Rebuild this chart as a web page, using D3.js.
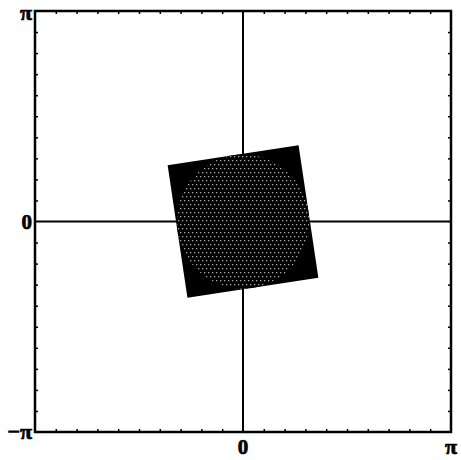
<!DOCTYPE html>
<html>
<head>
<meta charset="utf-8">
<script src="https://cdn.jsdelivr.net/npm/d3@7"></script>
<style>
  html, body { margin: 0; padding: 0; background: #fff; }
  svg { display: block; }
  .lbl { font-family: "Liberation Serif", "DejaVu Serif", serif; font-weight: bold; fill: #000; stroke: #000; stroke-width: 0.7px; }
</style>
</head>
<body>
<svg id="chart" width="461" height="460"></svg>
<script>
const PI = Math.PI;

// Axis range and tick positions (multiples of pi/10)
const axisDomain = [-PI, PI];
const tickValues = d3.range(-9, 10).filter(i => i !== 0).map(i => i * PI / 10);

// Tick labels
const xLabels = [{ v: 0, t: "0" }, { v: PI, t: "π" }];
const yLabels = [{ v: -PI, t: "−π" }, { v: 0, t: "0" }, { v: PI, t: "π" }];

// Unit square, rotated about the origin
const squareCorners = [[-1, -1], [1, -1], [1, 1], [-1, 1]];
const squareRotation = 0.15; // radians

// Disc inscribed in the square
const discCenter = [0, 0];
const discRadius = 1;

const svg = d3.select("#chart");
const plotLeft = 35, plotRight = 451, plotTop = 11, plotBottom = 432;

const x = d3.scaleLinear().domain(axisDomain).range([plotLeft, plotRight]);
const y = d3.scaleLinear().domain(axisDomain).range([plotBottom, plotTop]);

// Stipple pattern for the disc: grey dots on black
const defs = svg.append("defs");
const pat = defs.append("pattern")
  .attr("id", "stipple")
  .attr("patternUnits", "userSpaceOnUse")
  .attr("width", 4).attr("height", 8);
pat.append("rect").attr("width", 4).attr("height", 8).attr("fill", "#000");
pat.append("rect").attr("x", 0).attr("y", 0).attr("width", 1.3).attr("height", 1.3).attr("fill", "#aaa");
pat.append("rect").attr("x", 2).attr("y", 4).attr("width", 1.3).attr("height", 1.3).attr("fill", "#aaa");

// Crosshair lines at zero
svg.append("line")
  .attr("x1", x(0)).attr("x2", x(0)).attr("y1", y(PI)).attr("y2", y(-PI))
  .attr("stroke", "#000").attr("stroke-width", 2);
svg.append("line")
  .attr("x1", x(-PI)).attr("x2", x(PI)).attr("y1", y(0)).attr("y2", y(0))
  .attr("stroke", "#000").attr("stroke-width", 2);

// Rotated square
const rot = ([a, b]) => [a * Math.cos(squareRotation) - b * Math.sin(squareRotation),
                         a * Math.sin(squareRotation) + b * Math.cos(squareRotation)];
const pts = squareCorners.map(rot).map(([a, b]) => [x(a), y(b)]);
svg.append("path")
  .attr("d", d3.line()(pts) + "Z")
  .attr("fill", "#000");

// Stippled disc
svg.append("ellipse")
  .attr("cx", x(discCenter[0])).attr("cy", y(discCenter[1]))
  .attr("rx", x(discRadius) - x(0)).attr("ry", y(0) - y(discRadius))
  .attr("fill", "url(#stipple)");

// Frame ticks (inward) on all four sides
const tickLen = 3;
const gTop = svg.append("g").attr("transform", `translate(0,${plotTop})`)
  .call(d3.axisTop(x).tickValues(tickValues).tickSize(-tickLen).tickFormat(""));
const gBottom = svg.append("g").attr("transform", `translate(0,${plotBottom})`)
  .call(d3.axisBottom(x).tickValues(tickValues).tickSize(-tickLen).tickFormat(""));
const gLeft = svg.append("g").attr("transform", `translate(${plotLeft},0)`)
  .call(d3.axisLeft(y).tickValues(tickValues).tickSize(-tickLen).tickFormat(""));
const gRight = svg.append("g").attr("transform", `translate(${plotRight},0)`)
  .call(d3.axisRight(y).tickValues(tickValues).tickSize(-tickLen).tickFormat(""));
[gTop, gBottom, gLeft, gRight].forEach(g => {
  g.select(".domain").remove();
  g.selectAll(".tick line").attr("stroke", "#000").attr("stroke-width", 1.5);
});

// Frame
svg.append("rect")
  .attr("x", plotLeft).attr("y", plotTop)
  .attr("width", plotRight - plotLeft).attr("height", plotBottom - plotTop)
  .attr("fill", "none").attr("stroke", "#000").attr("stroke-width", 2.5);

// Labels (π glyphs set a little larger than the digits)
const fontSize = d => d.t === "0" ? 21 : 22;
svg.selectAll(".xl").data(xLabels).enter().append("text")
  .attr("class", "lbl")
  .attr("font-size", fontSize)
  .attr("x", d => x(d.v)).attr("y", plotBottom + 22)
  .attr("text-anchor", "middle")
  .text(d => d.t);
svg.selectAll(".yl").data(yLabels).enter().append("text")
  .attr("class", "lbl")
  .attr("font-size", fontSize)
  .attr("x", plotLeft - 3).attr("y", d => Math.max(y(d.v) + 7, 20))
  .attr("text-anchor", "end")
  .text(d => d.t);
</script>
</body>
</html>
